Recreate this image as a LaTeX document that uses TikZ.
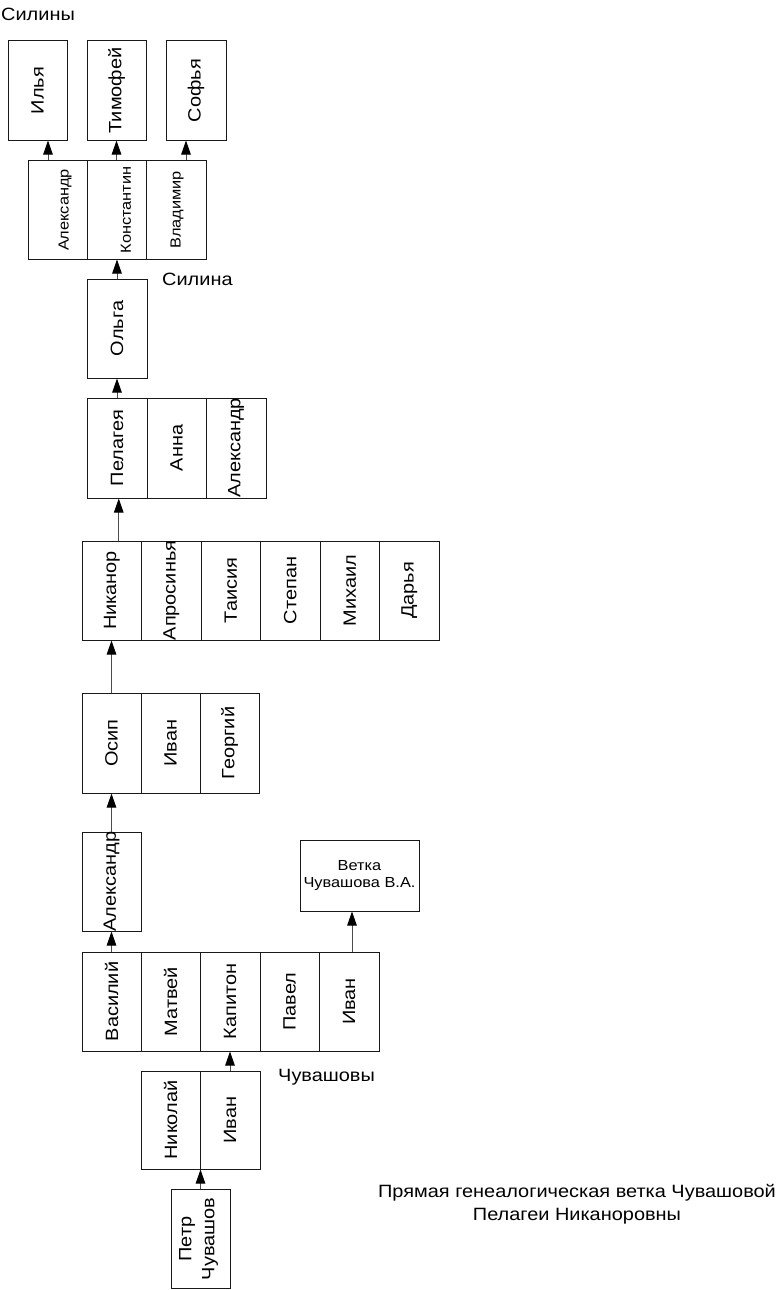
\documentclass[tikz,border=0pt]{standalone}
\usepackage{fontspec}
\setmainfont{Liberation Sans}[FakeStretch=1.12]
\usepackage{graphicx}
\usetikzlibrary{arrows.meta}
\newcommand{\bigf}{\fontsize{17.8}{23}\selectfont}
\newcommand{\smallf}{\fontsize{14.6}{16.5}\selectfont}
\newcommand{\rt}[1]{\rotatebox{90}{\makebox[0pt]{#1}}}
\begin{document}
\begin{tikzpicture}[x=1pt,y=-1pt,
  box/.style={draw=black!90, line width=1pt, inner sep=0pt, font=\bigf},
  sz/.style 2 args={minimum width=#1pt, minimum height=#2pt},
  lab/.style={inner sep=0pt, font=\bigf},
  small/.style={inner sep=0pt, font=\smallf},
  arr/.style={draw=black!70, line width=1pt, -{Triangle[length=14pt,width=9.5pt,color=black]}}
]
\useasboundingbox (0,0) rectangle (779,1290);

% labels
\node[lab, anchor=base west] (silinyl) at (1,20.7) {Силины};
\node[lab, anchor=base west] (silinal) at (162,285) {Силина};
\node[lab, anchor=base west] (chuvl) at (278,1081) {Чувашовы};
\node[lab, anchor=north, align=center] (title) at (577,1184.5) {Прямая генеалогическая ветка Чувашовой\\Пелагеи Никаноровны};

% top row
\node[box,sz={59}{99}] (ilya) at (37.5,90.5) {\rt{Илья}};
\node[box,sz={59}{99}] (tim) at (116.5,90.5) {\rt{Тимофей}};
\node[box,sz={60}{99}] (sof) at (196,90.5) {\rt{Софья}};

% second row
\node[box,sz={59}{99}] (alex2) at (57.5,209.5) {};
\node[box,sz={59}{99}] (kon) at (116.5,209.5) {};
\node[box,sz={60}{99}] (vla) at (176,209.5) {};
\node[small,rotate=90] (alex2t) at (65,210) {Александр};
\node[small,rotate=90] (kont) at (126,210) {Константин};
\node[small,rotate=90] (vlat) at (177,210) {Владимир};

% Olga
\node[box,sz={60}{99}] (olga) at (117,328.5) {\rt{Ольга}};

% Pelageya row
\node[box,sz={60}{100}] (pel) at (117,448) {\rt{Пелагея}};
\node[box,sz={59}{100}] (anna) at (176.5,448) {\rt{Анна}};
\node[box,sz={60}{100}] (alex3) at (236,448) {\rt{Александр}};

% Nikanor row
\node[box,sz={59.5}{99}] (nik) at (111.75,590.5) {\rt{Никанор}};
\node[box,sz={59.5}{99}] (apr) at (171.25,590.5) {\rt{Апросинья}};
\node[box,sz={59.5}{99}] (tai) at (230.75,590.5) {\rt{Таисия}};
\node[box,sz={59.5}{99}] (ste) at (290.25,590.5) {\rt{Степан}};
\node[box,sz={59.5}{99}] (mih) at (349.75,590.5) {\rt{Михаил}};
\node[box,sz={59.5}{99}] (dar) at (409.25,590.5) {\rt{Дарья}};

% Osip row
\node[box,sz={59}{100}] (osip) at (111.5,743) {\rt{Осип}};
\node[box,sz={59}{100}] (ivan2) at (170.5,743) {\rt{Иван}};
\node[box,sz={59}{100}] (geo) at (229.5,743) {\rt{Георгий}};

% Aleksandr
\node[box,sz={59}{99}] (alex4) at (111.5,881.5) {\rt{Александр}};

% Vetka
\node[box,sz={119}{71},font=\smallf,align=center] (vetka) at (359.5,875.5) {Ветка\\Чувашова В.А.};

% Vasiliy row
\node[box,sz={59}{99}] (vas) at (111.5,1001.5) {\rt{Василий}};
\node[box,sz={59}{99}] (mat) at (170.5,1001.5) {\rt{Матвей}};
\node[box,sz={60}{99}] (kap) at (230,1001.5) {\rt{Капитон}};
\node[box,sz={59}{99}] (pav) at (289.5,1001.5) {\rt{Павел}};
\node[box,sz={60}{99}] (ivan5) at (349,1001.5) {\rt{Иван}};

% Nikolay / Ivan
\node[box,sz={59}{98}] (nikol) at (170.5,1120) {\rt{Николай}};
\node[box,sz={60}{98}] (ivan6) at (230,1120) {\rt{Иван}};

% Petr
\node[box,sz={59}{99}] (petr) at (200.5,1238.5) {};
\node[lab,rotate=90,align=center] (petrt) at (198.5,1239) {Петр\\Чувашов};

% connectors
\draw[arr] ([xshift=-9.5pt]alex2.north) -- ([xshift=-9.5pt]alex2.north |- ilya.south);
\draw[arr] (kon.north) -- (kon.north |- tim.south);
\draw[arr] ([xshift=10pt]vla.north) -- ([xshift=10pt]vla.north |- sof.south);
\draw[arr] (olga.north) -- (olga.north |- kon.south);
\draw[arr] (pel.north) -- (pel.north |- olga.south);
\draw[arr] ([xshift=7pt]nik.north) -- ([xshift=7pt]nik.north |- pel.south);
\draw[arr] (osip.north) -- (osip.north |- nik.south);
\draw[arr] (alex4.north) -- (alex4.north |- osip.south);
\draw[arr] (vas.north) -- (vas.north |- alex4.south);
\draw[arr] ([xshift=3pt]ivan5.north) -- ([xshift=3pt]ivan5.north |- vetka.south);
\draw[arr] (ivan6.north) -- (ivan6.north |- kap.south);
\draw[arr] (petr.north) -- (petr.north |- nikol.south);
\end{tikzpicture}
\end{document}
